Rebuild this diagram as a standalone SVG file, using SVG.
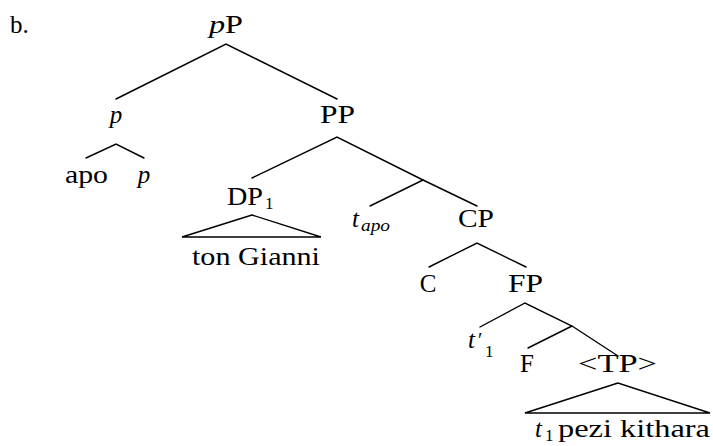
<svg xmlns="http://www.w3.org/2000/svg" width="713" height="446" viewBox="0 0 713 446">
<style>
text{font-family:"Liberation Serif","DejaVu Serif",serif;font-size:25px;fill:#000}
.i{font-style:italic}
.s{font-size:17px}
.e{stroke:#000;stroke-width:1.4;fill:none;stroke-linecap:round}
</style>
<rect width="713" height="446" fill="#fff"/>
<text x="10" y="33">b.</text>
<g id="pP"><text x="209" y="33" textLength="34" lengthAdjust="spacingAndGlyphs"><tspan class="i">p</tspan>P</text></g>
<g id="p1"><text class="i" x="116" y="123" text-anchor="middle">p</text></g>
<g id="PP"><text x="320" y="123" textLength="35" lengthAdjust="spacingAndGlyphs">PP</text></g>
<g id="apo"><text x="65" y="183" textLength="43" lengthAdjust="spacingAndGlyphs">apo</text></g>
<g id="p2"><text class="i" x="144" y="183" text-anchor="middle">p</text></g>
<g id="DP1"><text x="227" y="205" textLength="36" lengthAdjust="spacingAndGlyphs">DP</text><text class="s" x="265" y="209">1</text>
<path class="e" d="M252 215 L182 237 L321 237 Z"/>
<text x="192" y="265" textLength="128" lengthAdjust="spacingAndGlyphs">ton Gianni</text></g>
<g id="tapo"><text class="i" x="352" y="227">t</text><text class="i s" x="361" y="231" textLength="29" lengthAdjust="spacingAndGlyphs">apo</text></g>
<g id="CP"><text x="458" y="227" textLength="36" lengthAdjust="spacingAndGlyphs">CP</text></g>
<g id="C"><text x="428" y="292" text-anchor="middle">C</text></g>
<g id="FP"><text x="508" y="292" textLength="35" lengthAdjust="spacingAndGlyphs">FP</text></g>
<g id="t1prime"><text class="i" x="468" y="348">t</text><text x="478" y="347" style="font-size:20px">′</text><text class="s" x="485" y="357">1</text></g>
<g id="F"><text x="527" y="372" text-anchor="middle">F</text></g>
<g id="TP"><text x="578" y="372" textLength="79" lengthAdjust="spacingAndGlyphs">&lt;TP&gt;</text>
<path class="e" d="M618 383 L525 413 L710 413 Z"/>
<text class="i" x="535" y="437">t</text><text class="s" x="545" y="441">1</text>
<text x="558" y="437" textLength="152" lengthAdjust="spacingAndGlyphs">pezi kithara</text></g>
<g id="connectors">
<path class="e" d="M116 99 L226 44 L337 99"/>
<path class="e" d="M86 158 L116 144 L144 158"/>
<path class="e" d="M252 178 L337 137 L423 180 L477 206"/>
<path class="e" d="M370 206 L423 180"/>
<path class="e" d="M429 267 L477 243 L526 267"/>
<path class="e" d="M480 327 L525 303 L572 326 L618 356"/>
<path class="e" d="M528 348 L572 326"/>
</g>
</svg>
